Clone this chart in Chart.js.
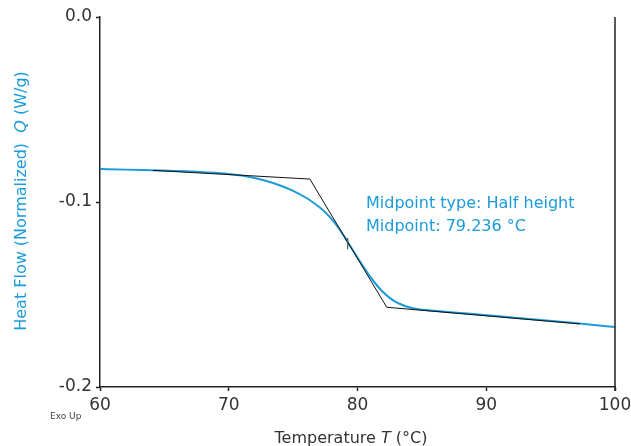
<!DOCTYPE html>
<html>
<head>
<meta charset="utf-8">
<script src="https://cdn.jsdelivr.net/npm/chart.js@4.4.1/dist/chart.umd.min.js"></script>
<style>
  html, body { margin: 0; padding: 0; background: #fff; }
  #wrap { width: 631px; height: 446px; }
</style>
</head>
<body>
<div id="wrap"><canvas id="dscChart" width="631" height="446"></canvas></div>
<script>
// temperature (°C) and heat flow (W/g)
const temps = [60, 62, 64, 66, 68, 70, 71, 72, 73, 74, 75, 76, 76.5, 77, 77.5, 78, 78.5, 79, 79.5, 80, 80.5, 81, 81.5, 82, 82.5, 83, 83.5, 84, 84.5, 85, 86, 88, 90, 92, 94, 96, 98, 100];
const heatFlow = [-0.0822, -0.0825, -0.0829, -0.0833, -0.0839, -0.0848, -0.0857, -0.0870, -0.0888, -0.0911, -0.0940, -0.0977, -0.1000, -0.1026, -0.1056, -0.1093, -0.1138, -0.1190, -0.1245, -0.1300, -0.1354, -0.1405, -0.1450, -0.1488, -0.1518, -0.1541, -0.1557, -0.1569, -0.1577, -0.1582, -0.1588, -0.1600, -0.1612, -0.1624, -0.1636, -0.1649, -0.1662, -0.1676];

// tangent construction lines (onset baseline, inflection tangent, end baseline)
const tangentT = [64.1, 76.3, 82.27, 97.28];
const tangentQ = [-0.0829, -0.0876, -0.1569, -0.1659];

// midpoint marker
const midT = [79.236, 79.236];
const midQ = [-0.1195, -0.1255];

const yTicks = [0, -0.1, -0.2];
const xTicks = [60, 70, 80, 90, 100];

const blue = '#1a9bdb';
const dark = '#222';
const fontName = '"DejaVu Sans", sans-serif';

function pts(xs, ys) {
    return xs.map((x, i) => ({ x: x, y: ys[i] }));
}

// draws text pieces in a row, the middle one italic, centred on 0
function mixedText(ctx, parts, size) {
    const fonts = [size + 'px ' + fontName, 'italic ' + size + 'px ' + fontName, size + 'px ' + fontName];
    const widths = parts.map((p, i) => { ctx.font = fonts[i]; return ctx.measureText(p).width; });
    let x = -(widths[0] + widths[1] + widths[2]) / 2;
    parts.forEach((p, i) => {
        ctx.font = fonts[i];
        ctx.fillText(p, x, 0);
        x += widths[i];
    });
}

const extras = {
    id: 'extras',
    afterDraw(chart) {
        const ctx = chart.ctx;
        const a = chart.chartArea;
        const xs = chart.scales.x;
        const ys = chart.scales.y;
        ctx.save();
        // right frame line
        ctx.strokeStyle = dark;
        ctx.lineWidth = 1.5;
        ctx.beginPath();
        ctx.moveTo(a.right, a.top);
        ctx.lineTo(a.right, a.bottom + 4);
        ctx.stroke();

        // midpoint annotation
        ctx.fillStyle = blue;
        ctx.font = '16px ' + fontName;
        ctx.textBaseline = 'alphabetic';
        ctx.textAlign = 'left';
        const tx = xs.getPixelForValue(80.66);
        ctx.fillText('Midpoint type: Half height', tx, ys.getPixelForValue(-0.1035));
        ctx.fillText('Midpoint: 79.236 °C', tx, ys.getPixelForValue(-0.1155));
        ctx.restore();

        // x axis title
        ctx.save();
        ctx.fillStyle = '#333';
        ctx.translate(351, 443);
        mixedText(ctx, ['Temperature ', 'T', ' (°C)'], 16);
        ctx.restore();

        // y axis title
        ctx.save();
        ctx.fillStyle = blue;
        ctx.translate(26, 201);
        ctx.rotate(-Math.PI / 2);
        mixedText(ctx, ['Heat Flow (Normalized)  ', 'Q', ' (W/g)'], 16);
        ctx.restore();

        // Exo Up label
        ctx.save();
        ctx.fillStyle = '#444';
        ctx.font = '9px ' + fontName;
        ctx.fillText('Exo Up', 50, 419);
        ctx.restore();
    }
};

new Chart(document.getElementById('dscChart').getContext('2d'), {
    type: 'line',
    data: {
        datasets: [{
            label: 'Heat Flow',
            data: pts(temps, heatFlow),
            borderColor: blue,
            borderWidth: 2,
            pointRadius: 0,
            cubicInterpolationMode: 'monotone',
            order: 2
        }, {
            label: 'Tangents',
            data: pts(tangentT, tangentQ),
            borderColor: '#111',
            borderWidth: 1,
            pointRadius: 0,
            tension: 0,
            order: 1
        }, {
            label: 'Midpoint',
            data: pts(midT, midQ),
            borderColor: '#555',
            borderWidth: 1.2,
            pointRadius: 0,
            order: 0
        }]
    },
    options: {
        responsive: false,
        animation: false,
        layout: { padding: { left: 0, right: 0, top: 17, bottom: 0 } },
        plugins: {
            legend: { display: false },
            tooltip: { enabled: false }
        },
        scales: {
            x: {
                type: 'linear',
                min: 60,
                max: 100,
                afterBuildTicks: (s) => { s.ticks = xTicks.map(v => ({ value: v })); },
                afterFit: (s) => { s.height = 59; s.paddingRight = 16; },
                ticks: {
                    color: '#333',
                    font: { family: fontName, size: 17 },
                    padding: 4,
                    maxRotation: 0
                },
                grid: { display: true, drawOnChartArea: false, tickLength: 4, color: dark, tickWidth: 1.5 },
                border: { display: true, color: dark, width: 1.5 }
            },
            y: {
                min: -0.2,
                max: 0,
                afterBuildTicks: (s) => { s.ticks = yTicks.map(v => ({ value: v })); },
                afterFit: (s) => { s.width = 100; },
                ticks: {
                    color: '#333',
                    font: { family: fontName, size: 17 },
                    padding: 4,
                    callback: (v) => Number(v).toFixed(1)
                },
                grid: { display: true, drawOnChartArea: false, tickLength: 4, color: dark, tickWidth: 1.5 },
                border: { display: true, color: dark, width: 1.5 }
            }
        }
    },
    plugins: [extras]
});
</script>
</body>
</html>
